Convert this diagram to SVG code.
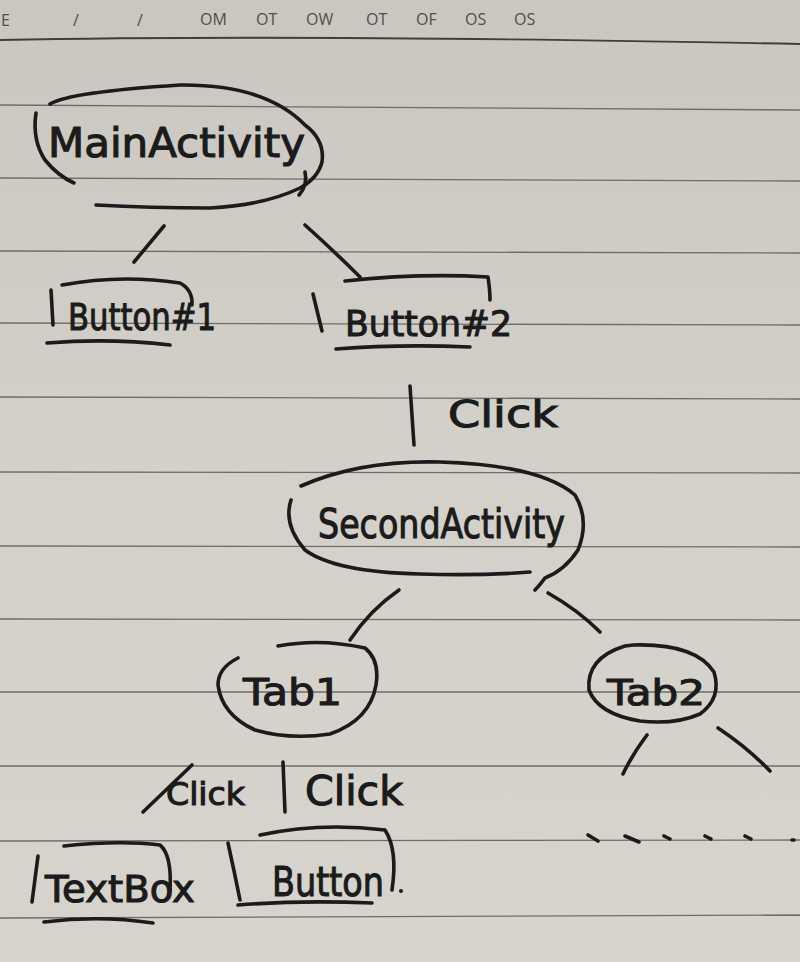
<svg xmlns="http://www.w3.org/2000/svg" width="800" height="962" viewBox="0 0 800 962">
<defs>
<linearGradient id="paper" x1="0" y1="0" x2="0" y2="1">
<stop offset="0" stop-color="#c9c7bf"/>
<stop offset="0.5" stop-color="#d3d1c9"/>
<stop offset="1" stop-color="#d6d4cc"/>
</linearGradient>
<style>
.rule{stroke:#6e6d68;stroke-width:1.3;fill:none}
.ink{stroke:#1b1b1b;stroke-width:3.6;fill:none;stroke-linecap:round;stroke-linejoin:round}
.hw{fill:#1b1b1b;stroke:#1b1b1b;stroke-width:1.1;font-family:"DejaVu Sans","Liberation Sans",sans-serif;font-weight:normal}
.hd{fill:#4f4f4c;font-family:"Open Sans","DejaVu Sans",sans-serif;font-size:16px}
</style>
</defs>
<rect width="800" height="962" fill="url(#paper)"/>
<g id="ruling">
<path class="rule" d="M0 40 Q300 34 800 44" style="stroke-width:1.8;stroke:#3f3e3a"/>
<path class="rule" d="M0 105 L800 110"/>
<path class="rule" d="M0 178 L800 181"/>
<path class="rule" d="M0 251 L800 253"/>
<path class="rule" d="M0 323 L800 325"/>
<path class="rule" d="M0 397 L800 399"/>
<path class="rule" d="M0 472 L800 473"/>
<path class="rule" d="M0 546 L800 547"/>
<path class="rule" d="M0 619 L800 620"/>
<path class="rule" d="M0 692 L800 692"/>
<path class="rule" d="M0 766 L800 766"/>
<path class="rule" d="M0 841 L800 840"/>
<path class="rule" d="M0 918 L800 915"/>
</g>
<g id="header">
<text class="hd" x="1" y="26">E</text>
<text class="hd" x="73" y="26">/</text>
<text class="hd" x="137" y="26">/</text>
<text class="hd" x="200" y="25">OM</text>
<text class="hd" x="256" y="25">OT</text>
<text class="hd" x="306" y="25">OW</text>
<text class="hd" x="366" y="25">OT</text>
<text class="hd" x="416" y="25">OF</text>
<text class="hd" x="465" y="25">OS</text>
<text class="hd" x="514" y="25">OS</text>
</g>
<g id="connectors">
<path class="ink" d="M164 226 L134 262"/>
<path class="ink" d="M305 225 Q335 252 360 277"/>
<path class="ink" d="M410 386 L414 445"/>
<path class="ink" d="M399 590 Q370 610 350 640"/>
<path class="ink" d="M548 593 Q578 610 600 632"/>
<path class="ink" d="M647 735 Q632 755 623 774"/>
<path class="ink" d="M718 728 Q748 748 770 771"/>
<path class="ink" d="M143 812 L192 765"/>
<path class="ink" d="M283 762 L285 812"/>
<g id="ellipsis">
<path class="ink" d="M588 835 L598 841"/>
<path class="ink" d="M625 836 L639 842"/>
<path class="ink" d="M664 836 L670 839"/>
<path class="ink" d="M705 836 L711 839"/>
<path class="ink" d="M745 836 L751 839"/>
<path class="ink" d="M792 840 L794 840"/>
</g>
</g>
<g id="MainActivity">
<path class="ink" d="M50 104 Q70 92 180 85 Q265 84 305 125 Q325 140 322 162 Q318 178 300 188 Q265 205 210 208 Q150 208 96 205"/>
<path class="ink" d="M36 113 Q32 140 45 160 Q58 176 74 183"/>
<path class="ink" d="M299 195 Q308 185 305 172"/>
<text class="hw" x="48" y="157" font-size="40" textLength="257" lengthAdjust="spacingAndGlyphs">MainActivity</text>
</g>
<g id="Button1">
<path class="ink" d="M51 290 L53 325"/>
<path class="ink" d="M62 285 Q120 274 180 283 Q193 290 192 305"/>
<path class="ink" d="M47 343 Q110 338 170 345"/>
<text class="hw" x="68" y="330" font-size="38" textLength="148" lengthAdjust="spacingAndGlyphs">Button#1</text>
</g>
<g id="Button2">
<path class="ink" d="M313 294 L322 331"/>
<path class="ink" d="M345 281 Q420 273 488 277 Q490 290 490 300"/>
<path class="ink" d="M336 349 Q400 344 470 347"/>
<text class="hw" x="345" y="336" font-size="36" textLength="167" lengthAdjust="spacingAndGlyphs">Button#2</text>
</g>
<g id="ClickLabel">
<text class="hw" x="448" y="427" font-size="38" textLength="110" lengthAdjust="spacingAndGlyphs">Click</text>
</g>
<g id="SecondActivity">
<path class="ink" d="M301 486 Q360 460 440 462 Q540 465 575 495 Q590 520 578 550 Q565 570 545 578 Q540 585 535 590"/>
<path class="ink" d="M291 500 Q283 525 305 550 Q335 572 420 574 Q480 576 530 572"/>
<text class="hw" x="318" y="538" font-size="40" textLength="247" lengthAdjust="spacingAndGlyphs">SecondActivity</text>
</g>
<g id="Tab1">
<path class="ink" d="M278 646 Q320 638 365 648 Q380 660 376 685 Q370 720 330 734 Q290 740 255 730 Q222 715 218 685 Q218 668 238 658"/>
<text class="hw" x="243" y="705" font-size="38" textLength="99" lengthAdjust="spacingAndGlyphs">Tab1</text>
</g>
<g id="Tab2">
<path class="ink" d="M633 645 Q695 643 714 672 Q722 698 700 714 Q675 725 640 721 Q598 714 589 690 Q586 658 625 646 Z"/>
<text class="hw" x="607" y="705" font-size="35" textLength="98" lengthAdjust="spacingAndGlyphs">Tab2</text>
</g>
<g id="ClickLeft">
<text class="hw" x="166" y="805" font-size="32" textLength="79" lengthAdjust="spacingAndGlyphs">Click</text>
</g>
<g id="ClickRight">
<text class="hw" x="305" y="805" font-size="40" textLength="98" lengthAdjust="spacingAndGlyphs">Click</text>
</g>
<g id="TextBox">
<path class="ink" d="M38 856 L32 902"/>
<path class="ink" d="M64 846 Q120 840 160 845 Q172 855 170 890"/>
<path class="ink" d="M44 922 Q100 915 153 923"/>
<text class="hw" x="45" y="902" font-size="38" textLength="150" lengthAdjust="spacingAndGlyphs">TextBox</text>
</g>
<g id="Button">
<path class="ink" d="M228 843 Q234 870 240 900"/>
<path class="ink" d="M260 835 Q320 822 385 830 Q398 850 392 890"/>
<path class="ink" d="M238 905 Q300 900 372 903"/>
<circle cx="401" cy="891" r="2" fill="#1b1b1b"/>
<text class="hw" x="272" y="896" font-size="40" textLength="112" lengthAdjust="spacingAndGlyphs">Button</text>
</g>
</svg>
